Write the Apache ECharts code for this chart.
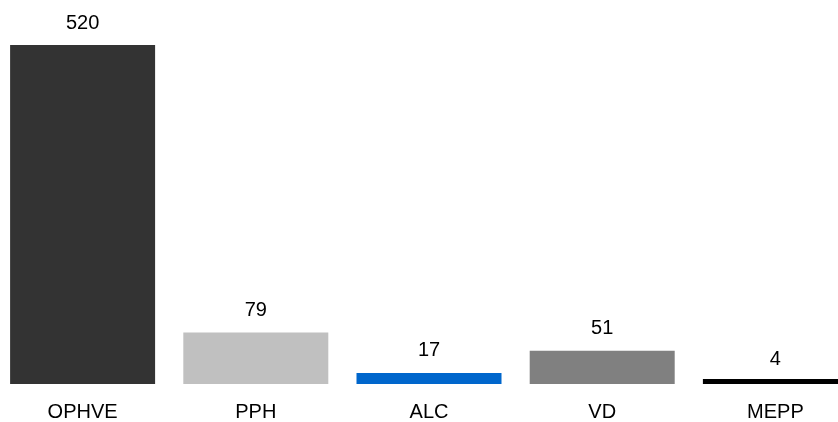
<!DOCTYPE html>
<html><head><meta charset="utf-8">
<script src="https://cdn.jsdelivr.net/npm/echarts@6/dist/echarts.min.js"></script>
<style>html,body{margin:0;padding:0;background:#fff}#c{width:838px;height:422px}</style>
</head><body><div id="c"></div>
<script>
const categories = ["OPHVE", "PPH", "ALC", "VD", "MEPP"];
const values = [520, 79, 17, 51, 4];
const colors = ["#333333", "#c0c0c0", "#0066cc", "#808080", "#000000"];

const chart = echarts.init(document.getElementById('c'), null, {renderer: 'canvas'});
chart.setOption({
  animation: false,
  grid: {left: -4, right: -24, top: 45, bottom: 38, containLabel: false, outerBoundsMode: 'none'},
  xAxis: {
    type: 'category', data: categories,
    axisLine: {show: false}, axisTick: {show: false},
    axisLabel: {fontSize: 20, color: '#000', margin: 18, fontFamily: 'Liberation Sans, Arial, sans-serif'}
  },
  yAxis: {type: 'value', min: 0, max: 520, show: false, splitLine: {show: false}},
  series: [{
    type: 'bar', barWidth: 145, barMinHeight: 5,
    data: values.map((v, i) => ({
      value: v,
      itemStyle: {color: colors[i]},
      label: i === 4 ? {distance: 10} : undefined
    })),
    label: {show: true, position: 'top', distance: 12, fontSize: 20, color: '#000', fontFamily: 'Liberation Sans, Arial, sans-serif'}
  }]
});
</script></body></html>
